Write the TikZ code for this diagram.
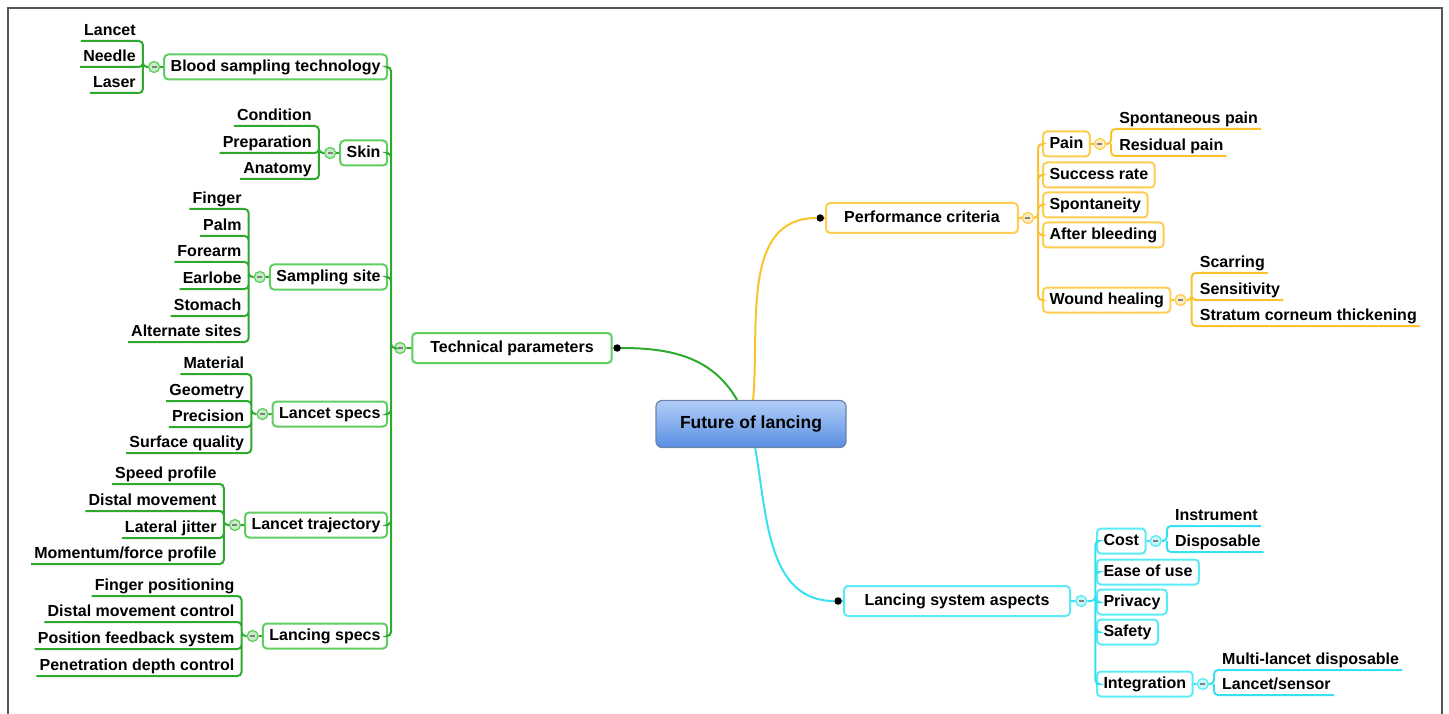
\documentclass[tikz,border=0pt]{standalone}
\usepackage{fontspec}
\setmainfont{Liberation Sans}
\usetikzlibrary{positioning, calc}

\definecolor{lgreen}{RGB}{45,170,45}
\definecolor{bgreen}{RGB}{95,205,95}
\definecolor{lorange}{RGB}{250,195,45}
\definecolor{borange}{RGB}{255,205,80}
\definecolor{lcyan}{RGB}{55,225,240}
\definecolor{bcyan}{RGB}{90,235,245}
\definecolor{rootlight}{RGB}{178,206,248}
\definecolor{rootdark}{RGB}{88,142,226}
\definecolor{rootedge}{RGB}{112,132,170}
\definecolor{frame}{RGB}{85,85,85}

\begin{document}
\begin{tikzpicture}[x=1pt, y=-1pt, font=\fontsize{16}{19}\selectfont\bfseries,
    box/.style={rounded corners=4pt, line width=2pt, fill=white, inner xsep=6.5pt,
                inner ysep=0pt, minimum height=25pt, text height=12pt, text depth=3.5pt},
    mainbox/.style={minimum height=30pt, inner xsep=18pt},
    gbox/.style={box, draw=bgreen},
    obox/.style={box, draw=borange},
    cbox/.style={box, draw=bcyan},
    root/.style={rounded corners=6pt, draw=rootedge, line width=1.2pt,
                 top color=rootlight, bottom color=rootdark, minimum width=190pt,
                 minimum height=47pt, font=\fontsize{17.5}{21}\selectfont\bfseries},
    leaf/.style={inner xsep=3pt, inner ysep=1pt, text height=12pt, text depth=4pt},
    lleaf/.style={leaf, anchor=south east, xshift=-4pt},
    rleaf/.style={leaf, anchor=south west, xshift=5pt},
    fold/.style={circle, minimum size=11pt, inner sep=0pt, line width=1.3pt,
                 path picture={\draw[gray, line width=1.4pt]
                   ([xshift=-2.5pt]path picture bounding box.center) --
                   ([xshift=2.5pt]path picture bounding box.center);}},
    gfold/.style={fold, draw=bgreen, fill=bgreen!35},
    ofold/.style={fold, draw=borange, fill=borange!35},
    cfold/.style={fold, draw=bcyan, fill=bcyan!35},
    dot/.style={circle, fill=black, minimum size=7.5pt, inner sep=0pt},
    gline/.style={draw=lgreen, line width=2pt, rounded corners=4pt},
    oline/.style={draw=lorange, line width=2pt, rounded corners=4pt},
    cline/.style={draw=lcyan, line width=2pt, rounded corners=4pt}]

    \useasboundingbox (0,0) rectangle (1449,714);
    \draw[frame, line width=2pt] (8,714) -- (8,8) -- (1442,8) -- (1442,714);

    % Central topic
    \node[root] (root) at (751,424) {Future of lancing};

    % Main branches
    \node[gbox, mainbox] (tp) at (512,348) {Technical parameters};
    \node[obox, mainbox] (pc) at (922,218) {Performance criteria};
    \node[cbox, mainbox, minimum width=226pt] (lsa) at (957,601) {Lancing system aspects};

    \node[dot, right=0.5pt of tp] (tp-dot) {};
    \node[dot, left=1pt of pc] (pc-dot) {};
    \node[dot, left=1pt of lsa] (lsa-dot) {};

    \draw[lgreen, line width=2pt] (tp) -- (tp-dot) to[out=0, in=120] (root);
    \draw[lorange, line width=2pt] (pc) -- (pc-dot) to[out=180, in=85] (root);
    \draw[lcyan, line width=2pt] (lsa) -- (lsa-dot) to[out=180, in=-80] (root);

    % Technical parameters: sub topics on the left
    \node[gfold, left=5pt of tp] (tp-f) {};
    \coordinate[left=3pt of tp-f] (tp-j);

    \node[gbox, anchor=east] (bst) at (388,67) {Blood sampling technology};
    \node[gbox, anchor=east] (skin) at (388,153) {Skin};
    \node[gbox, anchor=east] (site) at (388,277) {Sampling site};
    \node[gbox, anchor=east] (lspec) at (388,414) {Lancet specs};
    \node[gbox, anchor=east] (traj) at (388,525) {Lancet trajectory};
    \node[gbox, anchor=east] (lcspec) at (388,636) {Lancing specs};

    \draw[gline] (tp) -- (tp-f) -- (tp-j) |- (bst.east) (tp-j) |- (skin.east)
        (tp-j) |- (site.east) (tp-j) |- (lspec.east) (tp-j) |- (traj.east)
        (tp-j) |- (lcspec.east);

    % Blood sampling technology
    \node[gfold, left=3pt of bst] (bst-f) {};
    \coordinate[left=5pt of bst-f] (bst-j);
    \node[lleaf] (lancet) at (bst-j |- 0,41) {Lancet};
    \node[lleaf] (needle) at (bst-j |- 0,67) {Needle};
    \node[lleaf] (laser) at (bst-j |- 0,93) {Laser};
    \draw[gline] (bst) -- (bst-f) -- (bst-j) |- (lancet.south west)
        (bst-j) |- (needle.south west) (bst-j) |- (laser.south west);

    % Skin
    \node[gfold, left=3pt of skin] (skin-f) {};
    \coordinate[left=5pt of skin-f] (skin-j);
    \node[lleaf] (cond) at (skin-j |- 0,126) {Condition};
    \node[lleaf] (prep) at (skin-j |- 0,153) {Preparation};
    \node[lleaf] (anat) at (skin-j |- 0,179) {Anatomy};
    \draw[gline] (skin) -- (skin-f) -- (skin-j) |- (cond.south west)
        (skin-j) |- (prep.south west) (skin-j) |- (anat.south west);

    % Sampling site
    \node[gfold, left=3pt of site] (site-f) {};
    \coordinate[left=5pt of site-f] (site-j);
    \node[lleaf] (finger) at (site-j |- 0,209) {Finger};
    \node[lleaf] (palm) at (site-j |- 0,236) {Palm};
    \node[lleaf] (forearm) at (site-j |- 0,262) {Forearm};
    \node[lleaf] (earlobe) at (site-j |- 0,289) {Earlobe};
    \node[lleaf] (stomach) at (site-j |- 0,316) {Stomach};
    \node[lleaf] (altsite) at (site-j |- 0,342) {Alternate sites};
    \draw[gline] (site) -- (site-f) -- (site-j) |- (finger.south west)
        (site-j) |- (palm.south west) (site-j) |- (forearm.south west)
        (site-j) |- (earlobe.south west) (site-j) |- (stomach.south west)
        (site-j) |- (altsite.south west);

    % Lancet specs
    \node[gfold, left=3pt of lspec] (lspec-f) {};
    \coordinate[left=5pt of lspec-f] (lspec-j);
    \node[lleaf] (material) at (lspec-j |- 0,374) {Material};
    \node[lleaf] (geometry) at (lspec-j |- 0,401) {Geometry};
    \node[lleaf] (precision) at (lspec-j |- 0,427) {Precision};
    \node[lleaf] (surface) at (lspec-j |- 0,453) {Surface quality};
    \draw[gline] (lspec) -- (lspec-f) -- (lspec-j) |- (material.south west)
        (lspec-j) |- (geometry.south west) (lspec-j) |- (precision.south west)
        (lspec-j) |- (surface.south west);

    % Lancet trajectory
    \node[gfold, left=3pt of traj] (traj-f) {};
    \coordinate[left=5pt of traj-f] (traj-j);
    \node[lleaf] (speed) at (traj-j |- 0,484) {Speed profile};
    \node[lleaf] (distal) at (traj-j |- 0,511) {Distal movement};
    \node[lleaf] (jitter) at (traj-j |- 0,538) {Lateral jitter};
    \node[lleaf] (momentum) at (traj-j |- 0,564) {Momentum/force profile};
    \draw[gline] (traj) -- (traj-f) -- (traj-j) |- (speed.south west)
        (traj-j) |- (distal.south west) (traj-j) |- (jitter.south west)
        (traj-j) |- (momentum.south west);

    % Lancing specs
    \node[gfold, left=3pt of lcspec] (lcspec-f) {};
    \coordinate[left=5pt of lcspec-f] (lcspec-j);
    \node[lleaf] (fingerpos) at (lcspec-j |- 0,596) {Finger positioning};
    \node[lleaf] (distalctl) at (lcspec-j |- 0,622) {Distal movement control};
    \node[lleaf] (feedback) at (lcspec-j |- 0,649) {Position feedback system};
    \node[lleaf] (depth) at (lcspec-j |- 0,676) {Penetration depth control};
    \draw[gline] (lcspec) -- (lcspec-f) -- (lcspec-j) |- (fingerpos.south west)
        (lcspec-j) |- (distalctl.south west) (lcspec-j) |- (feedback.south west)
        (lcspec-j) |- (depth.south west);

    % Performance criteria: sub topics on the right
    \node[ofold, right=3pt of pc] (pc-f) {};
    \coordinate[right=4pt of pc-f] (pc-j);

    \node[obox, anchor=west] (pain) at (1042,144) {Pain};
    \node[obox, anchor=west] (success) at (1042,175) {Success rate};
    \node[obox, anchor=west] (spont) at (1042,205) {Spontaneity};
    \node[obox, anchor=west] (bleed) at (1042,235) {After bleeding};
    \node[obox, anchor=west] (wound) at (1042,300) {Wound healing};

    \draw[oline] (pc) -- (pc-f) -- (pc-j) |- (pain.west) (pc-j) |- (success.west)
        (pc-j) |- (spont.west) (pc-j) |- (bleed.west) (pc-j) |- (wound.west);

    % Pain
    \node[ofold, right=3pt of pain] (pain-f) {};
    \coordinate[right=5pt of pain-f] (pain-j);
    \node[rleaf] (spain) at (pain-j |- 0,129) {Spontaneous pain};
    \node[rleaf] (rpain) at (pain-j |- 0,156) {Residual pain};
    \draw[oline] (pain) -- (pain-f) -- (pain-j) |- (spain.south east)
        (pain-j) |- (rpain.south east);

    % Wound healing
    \node[ofold, right=3pt of wound] (wound-f) {};
    \coordinate[right=5pt of wound-f] (wound-j);
    \node[rleaf] (scar) at (wound-j |- 0,273) {Scarring};
    \node[rleaf] (sens) at (wound-j |- 0,300) {Sensitivity};
    \node[rleaf] (stratum) at (wound-j |- 0,326) {Stratum corneum thickening};
    \draw[oline] (wound) -- (wound-f) -- (wound-j) |- (scar.south east)
        (wound-j) |- (sens.south east) (wound-j) |- (stratum.south east);

    % Lancing system aspects: sub topics on the right
    \node[cfold, right=4pt of lsa] (lsa-f) {};
    \coordinate[right=8pt of lsa-f] (lsa-j);

    \node[cbox, anchor=west] (cost) at (1096,541) {Cost};
    \node[cbox, anchor=west] (ease) at (1096,572) {Ease of use};
    \node[cbox, anchor=west] (privacy) at (1096,602) {Privacy};
    \node[cbox, anchor=west] (safety) at (1096,632) {Safety};
    \node[cbox, anchor=west] (integ) at (1096,684) {Integration};

    \draw[cline] (lsa) -- (lsa-f) -- (lsa-j) |- (cost.west) (lsa-j) |- (ease.west)
        (lsa-j) |- (privacy.west) (lsa-j) |- (safety.west) (lsa-j) |- (integ.west);

    % Cost
    \node[cfold, right=3pt of cost] (cost-f) {};
    \coordinate[right=5pt of cost-f] (cost-j);
    \node[rleaf] (instr) at (cost-j |- 0,526) {Instrument};
    \node[rleaf] (dispo) at (cost-j |- 0,552) {Disposable};
    \draw[cline] (cost) -- (cost-f) -- (cost-j) |- (instr.south east)
        (cost-j) |- (dispo.south east);

    % Integration
    \node[cfold, right=3pt of integ] (integ-f) {};
    \coordinate[right=5pt of integ-f] (integ-j);
    \node[rleaf] (multi) at (integ-j |- 0,670) {Multi-lancet disposable};
    \node[rleaf] (sensor) at (integ-j |- 0,695) {Lancet/sensor};
    \draw[cline] (integ) -- (integ-f) -- (integ-j) |- (multi.south east)
        (integ-j) |- (sensor.south east);

\end{tikzpicture}
\end{document}
